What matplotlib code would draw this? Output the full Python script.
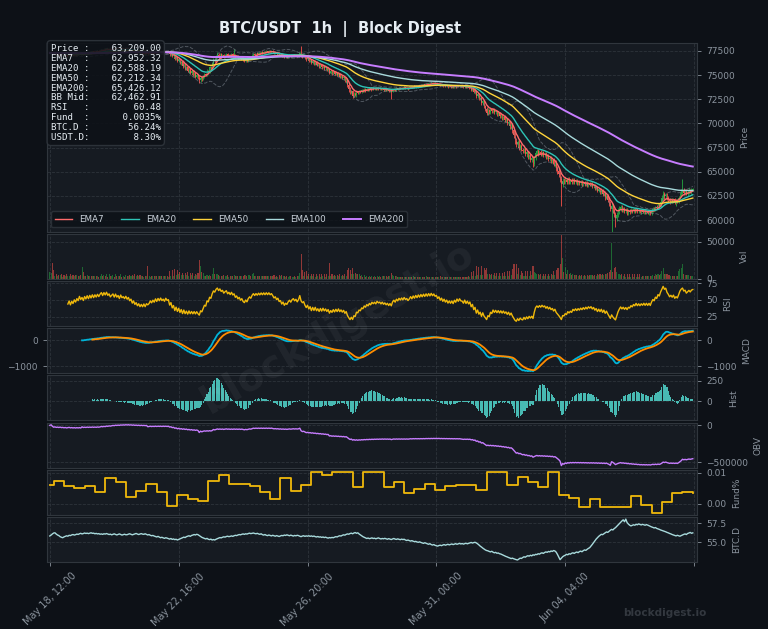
import numpy as np
import pandas as pd
import matplotlib
matplotlib.use("Agg")
import matplotlib.pyplot as plt
from matplotlib.ticker import FixedLocator, FormatStrFormatter

BG = "#0d1117"
PANEL = "#161b22"
GRID = "#30363d"
TXT = "#8b949e"

# hourly closes, May 18 12:00 -> Jun 07 07:00
close = [
    77300, 77420, 77250, 77180, 77310, 77150, 77240, 77090, 77200, 77060, 77130, 77000, 77110, 76950, 77060, 77150, 77010, 77120, 77040, 77160,
    77080, 77200, 77130, 77290, 77180, 77260, 77150, 77310, 77220, 77360, 77250, 77400, 77300, 77450, 77340, 77480, 77390, 77530, 77440, 77560,
    77650, 77540, 77700, 77610, 77760, 77640, 77720, 77600, 77680, 77750, 77630, 77780, 77660, 77740, 77620, 77790, 77680, 77730, 77650, 77760,
    77640, 77720, 77580, 77650, 77470, 77560, 77390, 77460, 77300, 77380, 77220, 77310, 77180, 77290, 77140, 77260, 77200, 77250, 77360, 77270,
    77380, 77290, 77430, 77320, 77450, 77350, 77470, 77360, 77420, 77330, 77460, 77370, 77400, 77150, 77250, 76950, 77050, 76700, 76850, 76500,
    76650, 76250, 76400, 75950, 76150, 75700, 75850, 75450, 75650, 75250, 75400, 75050, 75200, 74850, 75000, 74700, 74450, 74750, 74600, 74850,
    75100, 75000, 75450, 75350, 75800, 75700, 76200, 76600, 76500, 76900, 77100, 76900, 77150, 76950, 77100, 76880, 77050, 77180, 76950, 77120,
    76950, 77200, 77000, 77120, 76850, 76980, 76750, 76880, 76650, 76780, 76550, 76450, 76650, 76500, 76750, 76900, 76800, 77050, 77200, 77080,
    77250, 77150, 77320, 77220, 77380, 77280, 77430, 77330, 77480, 77380, 77520, 77420, 77500, 77400, 77280, 77350, 77200, 77280, 77100, 77150,
    76950, 77050, 76850, 76950, 76880, 77000, 77080, 76980, 77100, 77150, 77050, 77120, 77000, 77100, 77300, 77050, 76950, 77000, 76800, 76650,
    76750, 76500, 76600, 76300, 76450, 76200, 76350, 76050, 76150, 75900, 76050, 75800, 75950, 75700, 75800, 75550, 75650, 75260, 75400, 75200,
    75350, 75100, 75250, 75000, 75150, 74850, 74950, 74700, 74800, 74450, 74550, 74000, 73600, 73200, 73350, 72850, 73100, 72950, 73250, 73150,
    73350, 73250, 73450, 73350, 73550, 73420, 73600, 73480, 73650, 73520, 73700, 73580, 73680, 73550, 73720, 73600, 73650, 73520, 73620, 73480,
    73550, 73420, 73500, 73350, 73450, 73300, 73500, 73600, 73480, 73650, 73550, 73700, 73600, 73720, 73620, 73750, 73650, 73700, 73600, 73680,
    73800, 73700, 73850, 73750, 73900, 73800, 73950, 73850, 74000, 73900, 74050, 73950, 74100, 74000, 74150, 74050, 74200, 74100, 74200, 74100,
    74150, 74020, 74100, 73950, 74050, 73900, 74000, 73860, 73950, 73800, 73900, 73780, 73880, 73750, 73900, 73800, 73950, 73840, 73960, 73860,
    73850, 73750, 73880, 73720, 73820, 73680, 73760, 73500, 73600, 73250, 73350, 72850, 73000, 72550, 72650, 72100, 72300, 71800, 71500, 71100,
    71350, 71150, 71450, 71250, 71500, 71150, 71300, 70950, 71100, 70750, 70900, 70550, 70700, 70350, 70450, 70050, 70200, 69700, 69850, 69300,
    68800, 68200, 67850, 68050, 67500, 67700, 67300, 67150, 67350, 66800, 67000, 66500, 66700, 66250, 66400, 65800, 66400, 66900, 67100, 66850,
    67050, 66800, 67000, 66750, 66850, 66500, 66650, 66300, 66450, 66100, 66200, 65800, 65950, 65400, 65100, 64750, 64300, 63700, 64050, 63950,
    64150, 63950, 64200, 63950, 64100, 63900, 64150, 63950, 64100, 63850, 64000, 63800, 63950, 63750, 63900, 63700, 63850, 63650, 63800, 63650,
    63750, 63500, 63600, 63300, 63400, 63050, 63200, 62900, 63050, 62650, 62800, 62350, 62500, 62100, 61700, 61200, 61450, 61000, 60600, 60250,
    60550, 60900, 61150, 61350, 61050, 61200, 60900, 61050, 60750, 60950, 60850, 61050, 60900, 61100, 60950, 61150, 60900, 61050, 60850, 61000,
    60850, 61000, 60800, 60950, 60750, 60900, 60700, 60950, 61150, 61050, 61350, 61250, 61600, 61500, 61900, 62250, 62650, 62450, 62600, 62300,
    62150, 61950, 62100, 61950, 62150, 61900, 62050, 61950, 62250, 62650, 62900, 63050, 62850, 62950, 62750, 62900, 63050, 62950, 63150, 63209,
]

# wick above max(open, close) and below min(open, close), in USD
wick_hi = [
    60, 80, 40, 70, 50, 90, 40, 60, 80, 50, 40, 70, 60, 90, 50, 40, 80, 60, 50, 70,
    50, 90, 60, 40, 80, 120, 70, 50, 60, 90, 40, 70, 50, 80, 60, 40, 70, 90, 50, 60,
    80, 50, 70, 60, 90, 40, 60, 80, 50, 70, 60, 90, 40, 70, 50, 80, 60, 40, 70, 50,
    60, 90, 50, 40, 70, 60, 80, 50, 40, 90, 60, 50, 70, 40, 80, 60, 50, 90, 40, 60,
    50, 70, 60, 90, 40, 60, 80, 50, 70, 40, 60, 90, 50, 80, 100, 70, 120, 90, 110, 80,
    150, 120, 90, 130, 110, 80, 140, 100, 90, 120, 150, 100, 130, 90, 110, 140, 160, 200, 120, 150,
    130, 110, 150, 120, 140, 160, 130, 150, 120, 180, 300, 140, 120, 150, 110, 130, 100, 120, 90, 110,
    100, 120, 90, 570, 110, 80, 100, 90, 120, 80, 100, 110, 90, 120, 80, 100, 90, 110, 120, 80,
    90, 70, 100, 80, 60, 90, 70, 100, 80, 60, 90, 70, 100, 60, 80, 90, 70, 80, 100, 90,
    80, 100, 70, 90, 60, 80, 100, 70, 90, 60, 80, 70, 90, 100, 120, 750, 150, 100, 90, 120,
    110, 130, 90, 100, 120, 80, 110, 90, 100, 120, 80, 110, 90, 120, 100, 80, 110, 90, 130, 100,
    100, 120, 90, 80, 110, 90, 100, 80, 120, 100, 150, 130, 200, 160, 140, 120, 180, 150, 120, 140,
    130, 110, 120, 100, 90, 110, 80, 100, 90, 80, 100, 70, 90, 80, 70, 90, 80, 70, 90, 80,
    80, 90, 70, 80, 60, 90, 100, 80, 70, 90, 60, 80, 70, 90, 60, 80, 70, 60, 80, 70,
    60, 70, 50, 80, 60, 70, 50, 60, 80, 50, 70, 60, 80, 50, 70, 60, 50, 70, 60, 80,
    60, 50, 70, 60, 50, 60, 70, 50, 60, 50, 70, 60, 50, 60, 70, 50, 60, 70, 50, 60,
    60, 70, 50, 60, 70, 50, 60, 80, 100, 120, 110, 130, 150, 120, 140, 130, 150, 140, 160, 180,
    200, 180, 150, 160, 140, 120, 130, 110, 120, 100, 130, 110, 120, 140, 130, 150, 160, 180, 200, 220,
    300, 280, 250, 220, 200, 180, 160, 170, 150, 160, 180, 150, 170, 160, 180, 200, 250, 300, 280, 220,
    200, 180, 190, 160, 170, 150, 160, 140, 150, 160, 170, 180, 200, 220, 250, 240, 260, 300, 350, 300,
    280, 250, 300, 220, 200, 250, 200, 230, 180, 200, 170, 190, 160, 180, 150, 170, 160, 150, 160, 140,
    150, 160, 140, 150, 130, 160, 140, 150, 180, 160, 170, 180, 190, 200, 220, 250, 300, 260, 240, 250,
    300, 350, 280, 250, 220, 200, 180, 190, 170, 160, 150, 170, 140, 150, 160, 140, 130, 150, 140, 130,
    120, 130, 110, 120, 100, 110, 120, 150, 160, 170, 150, 180, 200, 220, 250, 300, 350, 280, 250, 220,
    200, 180, 190, 170, 160, 150, 160, 170, 200, 250, 280, 1250, 300, 260, 240, 220, 230, 200, 180, 150,
]
wick_lo = [
    70, 50, 90, 60, 80, 40, 70, 90, 50, 60, 80, 40, 90, 70, 60, 80, 50, 70, 90, 50,
    60, 70, 50, 90, 60, 80, 100, 60, 70, 50, 80, 60, 90, 50, 70, 80, 60, 50, 70, 80,
    60, 80, 50, 90, 60, 70, 50, 80, 90, 60, 50, 70, 80, 60, 70, 50, 80, 90, 60, 70,
    70, 50, 80, 90, 100, 60, 110, 90, 70, 100, 80, 60, 90, 70, 80, 60, 70, 80, 60, 70,
    60, 80, 50, 70, 60, 80, 50, 70, 60, 80, 90, 60, 100, 150, 130, 120, 180, 100, 160, 140,
    180, 120, 200, 160, 120, 180, 150, 110, 190, 160, 150, 120, 200, 180, 170, 130, 250, 150, 180, 140,
    120, 100, 110, 90, 100, 120, 90, 110, 100, 120, 150, 130, 100, 140, 110, 120, 100, 130, 110, 100,
    90, 100, 110, 90, 120, 100, 110, 90, 120, 110, 130, 120, 100, 110, 90, 80, 100, 90, 80, 100,
    70, 80, 90, 60, 70, 80, 60, 70, 80, 90, 60, 70, 80, 90, 100, 70, 90, 80, 100, 110,
    100, 90, 110, 80, 90, 70, 80, 90, 100, 70, 80, 70, 90, 70, 80, 150, 130, 120, 110, 140,
    130, 110, 120, 130, 100, 120, 130, 100, 140, 110, 120, 130, 100, 140, 120, 130, 150, 180, 120, 140,
    120, 100, 110, 120, 130, 120, 140, 150, 160, 180, 220, 250, 300, 200, 180, 220, 150, 140, 160, 130,
    120, 100, 140, 110, 100, 120, 90, 110, 100, 120, 90, 100, 80, 100, 110, 90, 100, 80, 100, 110,
    100, 80, 90, 100, 110, 800, 90, 80, 70, 90, 80, 90, 70, 80, 90, 70, 60, 80, 90, 70,
    60, 70, 80, 60, 70, 50, 80, 60, 50, 70, 60, 70, 50, 60, 70, 60, 80, 50, 70, 60,
    70, 80, 60, 70, 80, 90, 60, 70, 80, 90, 60, 80, 90, 80, 60, 80, 60, 70, 60, 70,
    60, 70, 80, 60, 70, 80, 60, 120, 150, 140, 160, 180, 170, 160, 150, 170, 180, 160, 200, 220,
    200, 160, 180, 150, 140, 170, 160, 180, 170, 160, 140, 170, 160, 180, 200, 220, 250, 230, 280, 300,
    350, 300, 320, 250, 280, 220, 200, 210, 190, 200, 220, 210, 200, 220, 250, 350, 200, 180, 160, 200,
    150, 180, 160, 170, 200, 190, 180, 200, 190, 210, 220, 250, 280, 300, 320, 300, 350, 2250, 300, 250,
    220, 200, 180, 220, 200, 180, 210, 170, 190, 180, 200, 170, 190, 180, 200, 170, 190, 180, 200, 170,
    160, 150, 180, 170, 160, 180, 170, 160, 150, 180, 200, 220, 180, 250, 280, 300, 2400, 280, 300, 1000,
    300, 250, 220, 200, 230, 200, 210, 190, 220, 180, 170, 160, 180, 150, 170, 160, 150, 170, 160, 180,
    160, 180, 150, 170, 160, 180, 150, 140, 130, 150, 140, 130, 150, 160, 140, 180, 200, 250, 230, 220,
    250, 300, 220, 200, 230, 250, 400, 220, 180, 200, 220, 250, 230, 240, 200, 220, 190, 180, 200, 170,
]

volume = [
    9000, 8000, 21000, 12000, 4500, 7000, 3500, 5000, 5000, 6500, 3000, 5500, 4000, 6000, 4500, 3500, 7000, 4000, 5000, 4000,
    5000, 5000, 4000, 4500, 5500, 16000, 9000, 4000, 3500, 5000, 4000, 4000, 3500, 4500, 4000, 3500, 3500, 4500, 3000, 4000,
    6000, 4000, 5500, 3500, 7000, 3000, 6000, 3500, 4500, 5000, 3000, 6500, 3500, 4500, 3500, 6000, 3000, 4000, 3000, 5000,
    4000, 4000, 5000, 3500, 5500, 4000, 6000, 3500, 5000, 4000, 5500, 4500, 4500, 3000, 4000, 3500, 18000, 3500, 3000, 4000,
    4000, 3500, 4500, 4000, 4000, 3500, 3500, 4000, 4000, 3500, 3500, 4000, 3000, 11000, 4000, 12000, 4500, 13000, 5000, 12000,
    6000, 9000, 5000, 8500, 5500, 8000, 5000, 9000, 4500, 7500, 5000, 8000, 4500, 7000, 5000, 7500, 26000, 18000, 9000, 8000,
    4500, 3500, 5000, 4000, 5500, 4500, 6000, 15000, 6000, 6000, 7000, 5000, 4000, 4000, 3500, 5000, 3500, 4000, 5000, 3000,
    4500, 4000, 4000, 5000, 4500, 3500, 4000, 4000, 4500, 3500, 4000, 5000, 5500, 4000, 5000, 5500, 3500, 6000, 7500, 3500,
    4000, 3500, 3500, 3500, 4000, 4000, 3500, 3500, 4000, 4000, 3500, 3500, 3500, 4500, 5000, 3000, 4500, 3000, 5500, 3500,
    5000, 3500, 4500, 3000, 4000, 3000, 3500, 4000, 3000, 3000, 3500, 3000, 3500, 3500, 8000, 34000, 12000, 4500, 9000, 10000,
    4000, 6500, 3500, 7000, 3500, 6500, 3000, 7000, 3500, 6000, 3000, 7000, 3500, 6500, 3000, 7000, 3500, 22000, 4000, 7000,
    4000, 5000, 3500, 5500, 3500, 6000, 3500, 5500, 4000, 7000, 4000, 12000, 14000, 12000, 6000, 15000, 7000, 8000, 6000, 6500,
    6000, 3500, 5500, 3000, 5000, 3000, 4500, 3000, 4500, 3000, 4000, 3000, 4000, 2500, 3500, 3000, 3500, 2500, 3500, 3500,
    3500, 3500, 3000, 3500, 3500, 8000, 5000, 4000, 3500, 3500, 3000, 3000, 3000, 3000, 3000, 3000, 3000, 3000, 3000, 3000,
    3000, 2500, 3500, 2500, 3000, 3000, 2500, 2500, 3000, 2500, 3000, 2500, 3500, 2000, 2500, 2500, 3000, 2500, 3000, 2500,
    3000, 3000, 2500, 3500, 2500, 3000, 2500, 3000, 2500, 3000, 2500, 3000, 2500, 3000, 2500, 3000, 2500, 2500, 2000, 3000,
    3000, 3000, 3000, 3000, 3000, 3500, 3000, 9000, 4000, 11000, 4500, 17000, 5000, 16000, 5000, 18000, 5500, 14000, 12000, 14000,
    6000, 7000, 5500, 7000, 5000, 7500, 4500, 8000, 4500, 8000, 4000, 8500, 4000, 9000, 4000, 10000, 4500, 11000, 5000, 13000,
    20000, 20000, 20000, 6000, 14000, 5000, 11000, 8000, 4500, 11000, 4500, 11000, 4500, 11000, 5000, 18000, 9000, 8000, 6000, 7000,
    5000, 6000, 4500, 6000, 4500, 6500, 4500, 6500, 4500, 7000, 5000, 10000, 5000, 12000, 14000, 15000, 20000, 60000, 28000, 9000,
    16000, 7000, 12000, 6000, 8000, 5500, 6000, 5000, 5000, 5000, 4500, 5000, 4500, 5000, 4500, 5000, 4000, 5000, 4000, 5000,
    5000, 5000, 4500, 5500, 4500, 6000, 5000, 6000, 5000, 6500, 5500, 7000, 6000, 8000, 9000, 12000, 48000, 9000, 14000, 16000,
    9000, 7000, 6000, 5000, 7000, 3500, 6500, 3000, 7000, 3000, 6500, 3000, 6500, 3000, 6000, 3000, 6000, 3000, 6000, 3000,
    4000, 3500, 4000, 3500, 4000, 3500, 4000, 4500, 5000, 4500, 6000, 5000, 6500, 5000, 7000, 11000, 14000, 6000, 6000, 7000,
    5000, 5000, 4000, 4500, 4000, 4500, 4000, 4500, 10000, 13000, 14000, 20000, 7000, 5000, 5000, 5000, 5000, 4000, 4500, 4000,
]

btc_d = [
    55.83, 55.95, 56.10, 56.22, 56.25, 56.08, 55.96, 55.88, 55.74, 55.66, 55.60, 55.71, 55.78, 55.85, 55.80, 55.92, 55.88, 55.97, 56.02, 55.95,
    56.00, 56.08, 56.03, 56.12, 56.18, 56.10, 56.15, 56.22, 56.16, 56.20, 56.14, 56.19, 56.25, 56.18, 56.20, 56.12, 56.17, 56.10, 56.14, 56.06,
    56.10, 56.04, 56.12, 56.08, 56.15, 56.09, 56.02, 56.07, 55.98, 56.05, 56.11, 56.03, 55.97, 56.04, 56.10, 56.02, 55.95, 56.01, 56.06, 55.99,
    56.00, 56.07, 56.12, 56.05, 55.98, 56.04, 56.10, 56.16, 56.08, 56.02, 56.09, 56.14, 56.07, 56.05, 56.12, 56.04, 55.96, 56.02, 55.92, 55.86,
    55.90, 55.82, 55.76, 55.70, 55.78, 55.68, 55.60, 55.66, 55.58, 55.52, 55.60, 55.55, 55.48, 55.42, 55.50, 55.38, 55.44, 55.35, 55.40, 55.30,
    55.38, 55.45, 55.52, 55.60, 55.68, 55.62, 55.74, 55.80, 55.86, 55.78, 55.90, 55.95, 56.02, 55.96, 56.05, 56.00, 55.88, 55.76, 55.65, 55.58,
    55.50, 55.44, 55.52, 55.40, 55.35, 55.42, 55.30, 55.36, 55.30, 55.40, 55.48, 55.55, 55.62, 55.58, 55.66, 55.72, 55.68, 55.76, 55.80, 55.74,
    55.78, 55.84, 55.78, 55.86, 55.92, 55.88, 55.96, 56.02, 55.98, 56.05, 56.10, 56.04, 56.12, 56.08, 56.15, 56.20, 56.14, 56.18, 56.22, 56.16,
    56.12, 56.18, 56.10, 56.05, 56.12, 56.00, 55.95, 56.02, 55.92, 55.88, 55.96, 55.90, 55.84, 55.92, 55.86, 55.80, 55.88, 55.82, 55.76, 55.84,
    55.90, 55.86, 55.95, 55.90, 55.98, 55.92, 55.86, 55.94, 55.88, 55.82, 55.90, 55.85, 55.92, 55.88, 55.80, 55.74, 55.82, 55.86, 55.78, 55.84,
    55.80, 55.86, 55.78, 55.84, 55.76, 55.82, 55.74, 55.70, 55.76, 55.68, 55.72, 55.64, 55.70, 55.62, 55.68, 55.60, 55.55, 55.62, 55.58, 55.64,
    55.60, 55.68, 55.74, 55.70, 55.80, 55.86, 55.82, 55.92, 55.98, 55.94, 56.04, 56.10, 56.06, 56.15, 56.20, 56.12, 56.22, 56.28, 56.18, 56.25,
    56.10, 55.98, 55.86, 55.74, 55.66, 55.58, 55.50, 55.56, 55.48, 55.52, 55.58, 55.50, 55.54, 55.46, 55.52, 55.58, 55.50, 55.44, 55.50, 55.46,
    55.52, 55.46, 55.40, 55.48, 55.42, 55.36, 55.44, 55.50, 55.42, 55.38, 55.45, 55.40, 55.34, 55.42, 55.36, 55.40, 55.30, 55.24, 55.30, 55.22,
    55.16, 55.22, 55.14, 55.08, 55.12, 55.04, 55.00, 55.06, 54.98, 54.92, 54.86, 54.94, 54.88, 54.80, 54.74, 54.82, 54.70, 54.64, 54.70, 54.60,
    54.55, 54.50, 54.58, 54.62, 54.56, 54.64, 54.70, 54.62, 54.68, 54.74, 54.66, 54.72, 54.78, 54.70, 54.76, 54.82, 54.74, 54.80, 54.86, 54.78,
    54.84, 54.76, 54.82, 54.88, 54.80, 54.86, 54.92, 54.98, 54.90, 54.96, 55.00, 54.92, 54.80, 54.66, 54.50, 54.38, 54.24, 54.12, 54.00, 53.92,
    53.88, 53.80, 53.74, 53.82, 53.70, 53.62, 53.68, 53.56, 53.60, 53.50, 53.46, 53.38, 53.30, 53.22, 53.14, 53.08, 53.00, 52.94, 52.86, 52.92,
    52.84, 52.78, 52.72, 52.68, 52.80, 52.92, 52.88, 53.00, 53.10, 53.04, 53.16, 53.24, 53.18, 53.30, 53.22, 53.36, 53.30, 53.42, 53.38, 53.50,
    53.44, 53.56, 53.62, 53.54, 53.66, 53.74, 53.68, 53.80, 53.74, 53.86, 53.80, 53.92, 53.86, 53.70, 53.40, 53.05, 52.72, 52.90, 53.10, 53.22,
    53.30, 53.42, 53.36, 53.50, 53.44, 53.56, 53.62, 53.54, 53.66, 53.72, 53.64, 53.78, 53.84, 53.76, 53.90, 54.00, 53.94, 54.08, 54.20, 54.30,
    54.50, 54.72, 54.95, 55.20, 55.42, 55.60, 55.78, 55.92, 56.05, 56.00, 56.12, 56.24, 56.36, 56.30, 56.44, 56.58, 56.70, 56.62, 56.80, 56.92,
    57.10, 57.28, 57.45, 57.62, 57.80, 57.95, 57.70, 58.05, 57.60, 57.40, 57.25, 57.15, 57.22, 57.30, 57.24, 57.36, 57.30, 57.42, 57.34, 57.28,
    57.36, 57.30, 57.24, 57.32, 57.26, 57.18, 57.10, 57.02, 56.96, 56.88, 56.94, 56.82, 56.76, 56.70, 56.62, 56.56, 56.50, 56.44, 56.38, 56.30,
    56.24, 56.16, 56.10, 56.02, 55.96, 55.90, 55.84, 55.92, 55.86, 55.80, 55.88, 55.95, 56.04, 56.10, 56.02, 56.16, 56.22, 56.30, 56.18, 56.24,
]

# funding rate (%) per 8h period, first period is 3h
fund_steps = [
    0.0059, 0.0074, 0.0057, 0.0050, 0.0057, 0.0036, 0.0082, 0.0069, 0.0021, 0.0041, 0.0062, 0.0036, -0.0007,
    0.0028, 0.0016, 0.0009, 0.0072, 0.0092, 0.0064, 0.0064, 0.0057, 0.0036, 0.0014, 0.0082, 0.0041, 0.0059,
    0.0102, 0.0092, 0.0102, 0.0102, 0.0055, 0.0102, 0.0102, 0.0055, 0.0069, 0.0035, 0.0047, 0.0062, 0.0044,
    0.0057, 0.0060, 0.0060, 0.0044, 0.0102, 0.0102, 0.0059, 0.0085, 0.0070, 0.0054, 0.0102, 0.0028, 0.0018,
    -0.0009, 0.0014, -0.0011, -0.0011, -0.0009, 0.0026, -0.0004, -0.0029, 0.0005, 0.0035, 0.0037, 0.0035,
]

info_labels = ["Price", "EMA7", "EMA20", "EMA50", "EMA200", "BB Mid", "RSI", "Fund", "BTC.D", "USDT.D"]
info_values = ["63,209.00", "62,952.32", "62,588.19", "62,212.34", "65,426.12", "62,462.91",
               "60.48", "0.0035%", "56.24%", "8.30%"]

ema_periods = [7, 20, 50, 100, 200]
ema_colors = ["#ff6b6b", "#2ec4b6", "#ffd43b", "#a8dadc", "#c77dff"]

# ---- indicators ----
n = len(close)
x = np.arange(n)
c = np.array(close, dtype=float)
o = np.r_[c[0], c[:-1]]
hi = np.maximum(o, c) + np.array(wick_hi)
lo = np.minimum(o, c) - np.array(wick_lo)
up = c >= o
s = pd.Series(c)

emas = [s.ewm(span=p, adjust=False).mean() for p in ema_periods]
bb_mid = s.rolling(20).mean()
bb_std = s.rolling(20).std()

delta = s.diff()
gain = delta.clip(lower=0).ewm(alpha=1 / 14, min_periods=14).mean()
loss = (-delta.clip(upper=0)).ewm(alpha=1 / 14, min_periods=14).mean()
rsi = 100 - 100 / (1 + gain / loss)

ema12 = s.ewm(span=12, adjust=False, min_periods=12).mean()
ema26 = s.ewm(span=26, adjust=False, min_periods=26).mean()
macd = ema12 - ema26
signal = macd.ewm(span=9, adjust=False, min_periods=9).mean()
hist = macd - signal

vol = np.array(volume, dtype=float)
obv = np.cumsum(np.sign(delta.fillna(0).values) * vol)

bounds = np.r_[0, np.arange(3, n, 8), n]
fund = np.repeat(fund_steps, np.diff(bounds))

dates = pd.date_range("2025-05-18 12:00", periods=n, freq="h")

# ---- figure ----
plt.rcParams["font.family"] = "DejaVu Sans"
fig = plt.figure(figsize=(7.68, 6.29), dpi=100, facecolor=BG)
gs = fig.add_gridspec(8, 1, height_ratios=[4.2, 1, 1, 1, 1, 1, 1, 1], hspace=0.035,
                      left=0.061, right=0.9076, top=0.932, bottom=0.1065)
axes = [fig.add_subplot(gs[0])]
for i in range(1, 8):
    axes.append(fig.add_subplot(gs[i], sharex=axes[0]))
ax_p, ax_v, ax_r, ax_m, ax_h, ax_o, ax_f, ax_b = axes

for ax in axes:
    ax.set_facecolor(PANEL)
    for sp in ax.spines.values():
        sp.set_color(GRID)
    ax.yaxis.tick_right()
    ax.yaxis.set_label_position("right")
    ax.tick_params(colors=TXT, labelsize=6.5, length=3, width=0.6)
    ax.grid(True, color=GRID, linestyle="--", linewidth=0.6, alpha=0.9)
    ax.set_axisbelow(True)

# candles
col = np.where(up, "#26a641", "#f85149")
ax_p.vlines(x, lo, hi, colors=col, linewidth=0.6)
ax_p.bar(x, np.maximum(np.abs(c - o), 15), bottom=np.minimum(o, c), width=0.6, color=col, linewidth=0)
ax_p.plot(x, bb_mid + 2 * bb_std, color=TXT, lw=0.7, ls="--", alpha=0.5)
ax_p.plot(x, bb_mid - 2 * bb_std, color=TXT, lw=0.7, ls="--", alpha=0.5)
for p, e, cl in zip(ema_periods, emas, ema_colors):
    ax_p.plot(x, e, color=cl, lw=1.4 if p == 200 else 1.0, label=f"EMA{p}")
ax_p.set_ylim(58800, 78350)
ax_p.yaxis.set_major_locator(FixedLocator(np.arange(60000, 77501, 2500)))
ax_p.set_ylabel("Price", color=TXT, fontsize=6.5)
ax_p.legend(loc="lower left", ncol=5, fontsize=6.3, facecolor=BG, edgecolor=GRID,
            labelcolor="#c9d1d9", framealpha=0.8)

info = "\n".join(f"{lab:<6}:{val:>13}" for lab, val in zip(info_labels, info_values))
ax_p.text(0.006, 0.992, info, transform=ax_p.transAxes, va="top", ha="left",
          family="DejaVu Sans Mono", fontsize=6.6, color="#e6edf3", linespacing=1.12,
          bbox=dict(boxstyle="round,pad=0.4", fc=BG, ec=GRID, alpha=0.88), zorder=10)

# volume
ax_v.bar(x, vol, width=0.8, color=col, alpha=0.55, linewidth=0)
ax_v.set_ylim(0, 60500)
ax_v.yaxis.set_major_locator(FixedLocator([0, 50000]))
ax_v.set_ylabel("Vol", color=TXT, fontsize=6.5)

# rsi
ax_r.plot(x, rsi, color="#f0b90b", lw=1.0)
ax_r.set_ylim(11, 78)
ax_r.yaxis.set_major_locator(FixedLocator([25, 50, 75]))
ax_r.set_ylabel("RSI", color=TXT, fontsize=6.5)

# macd
ax_m.plot(x, macd, color="#00b4d8", lw=1.3)
ax_m.plot(x, signal, color="#ff8c00", lw=1.3)
ax_m.yaxis.set_major_locator(FixedLocator([-1000, 0]))
ax_m.tick_params(left=True, labelleft=True)
ax_m.set_ylabel("MACD", color=TXT, fontsize=6.5)

# hist
ax_h.bar(x, hist, width=0.8, color="#4ecdc4", alpha=0.9, linewidth=0)
ax_h.yaxis.set_major_locator(FixedLocator([-250, 0, 250]))
ax_h.set_ylabel("Hist", color=TXT, fontsize=6.5)

# obv
ax_o.plot(x, obv, color="#c77dff", lw=1.0)
ax_o.yaxis.set_major_locator(FixedLocator([-500000, 0]))
ax_o.set_ylabel("OBV", color=TXT, fontsize=6.5)

# funding
ax_f.plot(x, fund, color="#f0b90b", lw=1.3, drawstyle="steps-post")
ax_f.yaxis.set_major_locator(FixedLocator([0.0, 0.01]))
ax_f.yaxis.set_major_formatter(FormatStrFormatter("%.2f"))
ax_f.set_ylabel("Fund%", color=TXT, fontsize=6.5)

# btc dominance
ax_b.plot(x, btc_d, color="#a8dadc", lw=1.0)
ax_b.yaxis.set_major_locator(FixedLocator([55.0, 57.5]))
ax_b.yaxis.set_major_formatter(FormatStrFormatter("%.1f"))
ax_b.set_ylabel("BTC.D", color=TXT, fontsize=6.5)

# x axis
ticks = list(range(0, n + 1, 100))
labels = [dates[t].strftime("%b %d, %H:%M") if t < n else "" for t in ticks]
ax_b.set_xticks(ticks)
ax_b.set_xticklabels(labels, rotation=45, fontsize=7, color=TXT)
for ax in axes[:-1]:
    ax.tick_params(labelbottom=False, bottom=False)
ax_p.set_xlim(-2.3, n + 2.3)

fig.text(0.443, 0.954, "BTC/USDT  1h  |  Block Digest", ha="center", va="center",
         color="#e6edf3", fontsize=10.5, fontweight="bold")
fig.text(0.44, 0.48, "blockdigest.io", rotation=30, ha="center", va="center",
         fontsize=28, fontweight="bold", color="white", alpha=0.05)
fig.text(0.865, 0.025, "blockdigest.io", ha="center", va="center",
         fontsize=7.5, fontweight="bold", color=TXT, alpha=0.3)

fig.savefig("out.png", dpi=100, facecolor=BG)
